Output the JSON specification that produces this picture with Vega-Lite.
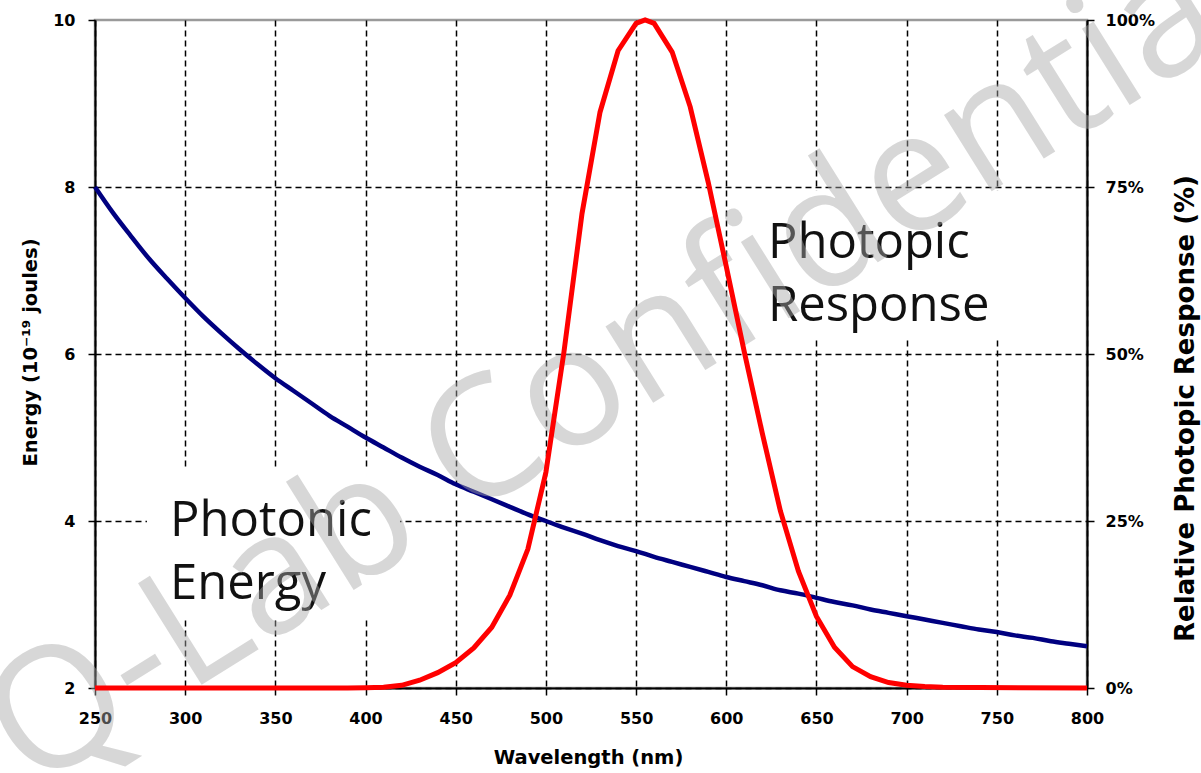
{
  "$schema": "https://vega.github.io/schema/vega-lite/v6.json",
  "width": 992,
  "height": 668,
  "autosize": {"type": "none"},
  "padding": {"left": 95, "top": 20, "right": 114, "bottom": 85},
  "background": "white",
  "config": {
    "view": {"stroke": "#9a9a9a", "strokeWidth": 2.5},
    "axis": {
      "domainColor": "black",
      "domainWidth": 2,
      "tickColor": "black",
      "tickWidth": 1.5,
      "tickSize": 7,
      "labelColor": "black",
      "labelFont": "DejaVu Sans",
      "labelFontWeight": "bold",
      "labelFontSize": 16,
      "labelFlush": false,
      "labelBound": false,
      "labelOverlap": false,
      "titleColor": "black",
      "titleFont": "DejaVu Sans",
      "titleFontWeight": "bold",
      "titleFontSize": 19.5,
      "gridColor": "black",
      "gridDash": [6, 4],
      "gridWidth": 1.5
    }
  },
  "datasets": {
    "energy": [
      {"wl": 250, "energy": 8.00}, {"wl": 260, "energy": 7.69}, {"wl": 270, "energy": 7.41},
      {"wl": 280, "energy": 7.14}, {"wl": 290, "energy": 6.90}, {"wl": 300, "energy": 6.67},
      {"wl": 310, "energy": 6.45}, {"wl": 320, "energy": 6.25}, {"wl": 330, "energy": 6.06},
      {"wl": 340, "energy": 5.88}, {"wl": 350, "energy": 5.71}, {"wl": 360, "energy": 5.56},
      {"wl": 370, "energy": 5.41}, {"wl": 380, "energy": 5.26}, {"wl": 390, "energy": 5.13},
      {"wl": 400, "energy": 5.00}, {"wl": 410, "energy": 4.88}, {"wl": 420, "energy": 4.76},
      {"wl": 430, "energy": 4.65}, {"wl": 440, "energy": 4.55}, {"wl": 450, "energy": 4.44},
      {"wl": 460, "energy": 4.35}, {"wl": 470, "energy": 4.26}, {"wl": 480, "energy": 4.17},
      {"wl": 490, "energy": 4.08}, {"wl": 500, "energy": 4.00}, {"wl": 510, "energy": 3.92},
      {"wl": 520, "energy": 3.85}, {"wl": 530, "energy": 3.77}, {"wl": 540, "energy": 3.70},
      {"wl": 550, "energy": 3.64}, {"wl": 560, "energy": 3.57}, {"wl": 570, "energy": 3.51},
      {"wl": 580, "energy": 3.45}, {"wl": 590, "energy": 3.39}, {"wl": 600, "energy": 3.33},
      {"wl": 610, "energy": 3.28}, {"wl": 620, "energy": 3.23}, {"wl": 630, "energy": 3.17},
      {"wl": 640, "energy": 3.13}, {"wl": 650, "energy": 3.08}, {"wl": 660, "energy": 3.03},
      {"wl": 670, "energy": 2.99}, {"wl": 680, "energy": 2.94}, {"wl": 690, "energy": 2.90},
      {"wl": 700, "energy": 2.86}, {"wl": 710, "energy": 2.82}, {"wl": 720, "energy": 2.78},
      {"wl": 730, "energy": 2.74}, {"wl": 740, "energy": 2.70}, {"wl": 750, "energy": 2.67},
      {"wl": 760, "energy": 2.63}, {"wl": 770, "energy": 2.60}, {"wl": 780, "energy": 2.56},
      {"wl": 790, "energy": 2.53}, {"wl": 800, "energy": 2.50}
    ],
    "photopic": [
      {"wl": 250, "response": 0}, {"wl": 380, "response": 0}, {"wl": 390, "response": 0.01},
      {"wl": 400, "response": 0.04}, {"wl": 410, "response": 0.12}, {"wl": 420, "response": 0.4},
      {"wl": 430, "response": 1.16}, {"wl": 440, "response": 2.3}, {"wl": 450, "response": 3.8},
      {"wl": 460, "response": 6.0}, {"wl": 470, "response": 9.1}, {"wl": 480, "response": 13.9},
      {"wl": 490, "response": 20.8}, {"wl": 500, "response": 32.3}, {"wl": 510, "response": 50.3},
      {"wl": 520, "response": 71.0}, {"wl": 530, "response": 86.2}, {"wl": 540, "response": 95.4},
      {"wl": 550, "response": 99.5}, {"wl": 555, "response": 100}, {"wl": 560, "response": 99.5},
      {"wl": 570, "response": 95.2}, {"wl": 580, "response": 87.0}, {"wl": 590, "response": 75.7},
      {"wl": 600, "response": 63.1}, {"wl": 610, "response": 50.3}, {"wl": 620, "response": 38.1},
      {"wl": 630, "response": 26.5}, {"wl": 640, "response": 17.5}, {"wl": 650, "response": 10.7},
      {"wl": 660, "response": 6.1}, {"wl": 670, "response": 3.2}, {"wl": 680, "response": 1.7},
      {"wl": 690, "response": 0.82}, {"wl": 700, "response": 0.41}, {"wl": 710, "response": 0.21},
      {"wl": 720, "response": 0.1}, {"wl": 800, "response": 0}
    ],
    "notes": [
      {"label": "Photonic\nEnergy", "wl": 291.6, "energy": 3.82, "box_from": 278.8, "box_to": 419.1, "box_top": 4.63, "box_bottom": 2.85},
      {"label": "Photopic\nResponse", "wl": 623.1, "energy": 7.15, "box_from": 610.4, "box_to": 759.5, "box_top": 7.96, "box_bottom": 6.17}
    ],
    "stamp": [
      {"label": "Q-Lab Confidential", "wl": 543, "energy": 5.9}
    ]
  },
  "layer": [
    {
      "layer": [
        {
          "data": {"name": "energy"},
          "mark": {"type": "line", "color": "#000080", "strokeWidth": 4.5, "interpolate": "monotone"},
          "encoding": {
            "x": {
              "field": "wl",
              "type": "quantitative",
              "scale": {"domain": [250, 800], "nice": false, "zero": false},
              "axis": {
                "values": [250, 300, 350, 400, 450, 500, 550, 600, 650, 700, 750, 800],
                "format": "d",
                "grid": true,
                "labelPadding": 15,
                "title": "Wavelength (nm)",
                "titleX": 493,
                "titleY": 69,
                "titleBaseline": "middle"
              }
            },
            "y": {
              "field": "energy",
              "type": "quantitative",
              "scale": {"domain": [2, 10], "nice": false, "zero": false},
              "axis": {
                "orient": "left",
                "values": [2, 4, 6, 8, 10],
                "format": "d",
                "grid": true,
                "gridOpacity": {"condition": {"test": "datum.value == 10", "value": 0}, "value": 1},
                "labelPadding": 13,
                "title": "Energy (10⁻¹⁹ joules)",
                "titleAngle": 270,
                "titleX": -65,
                "titleY": 332,
                "titleAlign": "center",
                "titleBaseline": "middle"
              }
            }
          }
        },
        {
          "data": {"name": "notes"},
          "mark": {"type": "rect", "fill": "white"},
          "encoding": {
            "x": {"field": "box_from", "type": "quantitative"},
            "x2": {"field": "box_to"},
            "y": {"field": "box_top", "type": "quantitative"},
            "y2": {"field": "box_bottom"}
          }
        },
        {
          "data": {"name": "notes"},
          "mark": {
            "type": "text",
            "font": "Open Sans",
            "fontSize": 49,
            "color": "#111111",
            "align": "left",
            "baseline": "alphabetic",
            "lineBreak": "\n",
            "lineHeight": 63
          },
          "encoding": {
            "x": {"field": "wl", "type": "quantitative"},
            "y": {"field": "energy", "type": "quantitative"},
            "text": {"field": "label"}
          }
        },
        {
          "data": {"name": "stamp"},
          "mark": {
            "type": "text",
            "font": "Open Sans",
            "fontSize": 168,
            "color": "#a8a8a8",
            "opacity": 0.45,
            "angle": 328,
            "align": "center",
            "baseline": "middle"
          },
          "encoding": {
            "x": {"field": "wl", "type": "quantitative"},
            "y": {"field": "energy", "type": "quantitative"},
            "text": {"field": "label"}
          }
        }
      ]
    },
    {
      "data": {"name": "photopic"},
      "mark": {"type": "line", "color": "#ff0000", "strokeWidth": 5},
      "encoding": {
        "x": {"field": "wl", "type": "quantitative"},
        "y": {
          "field": "response",
          "type": "quantitative",
          "scale": {"domain": [0, 100], "nice": false},
          "axis": {
            "orient": "right",
            "values": [0, 25, 50, 75, 100],
            "labelExpr": "datum.value + '%'",
            "grid": false,
            "labelPadding": 11,
            "title": "Relative Photopic Response (%)",
            "titleFontSize": 26,
            "titleAngle": 270,
            "titleX": 98,
            "titleY": 388,
            "titleAlign": "center",
            "titleBaseline": "middle"
          }
        }
      }
    }
  ],
  "resolve": {"scale": {"y": "independent"}, "axis": {"y": "independent"}}
}
